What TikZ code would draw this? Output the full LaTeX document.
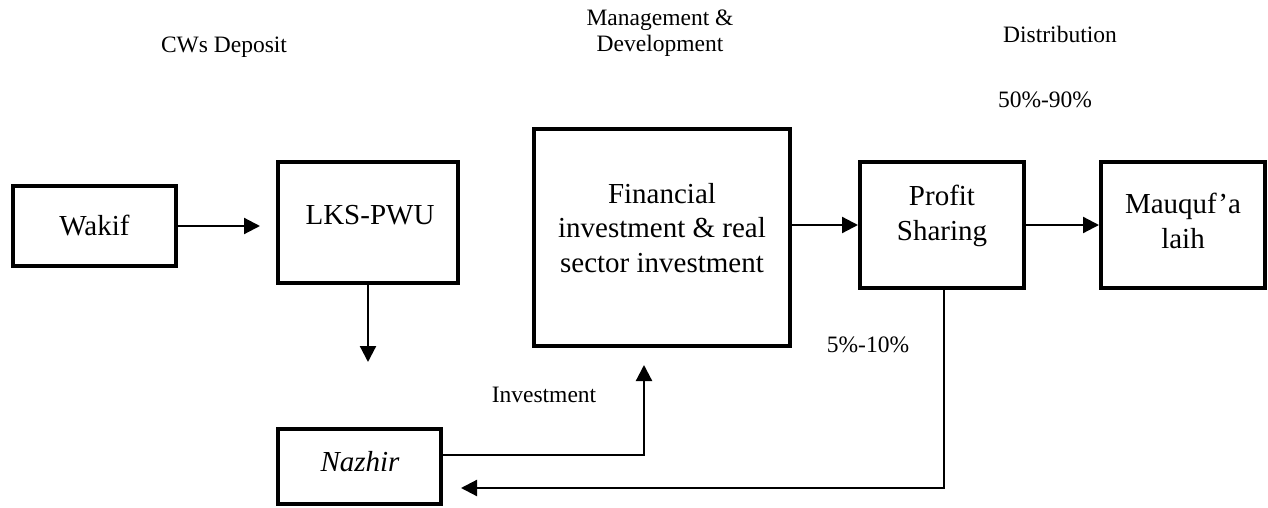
\documentclass[tikz,border=0pt]{standalone}
\usepackage{fontspec}
\setmainfont{Liberation Serif}
\usetikzlibrary{arrows.meta}
\tikzset{
  boxnode/.style={draw=black, line width=4pt, rectangle, inner sep=0pt},
  boxtext/.style={align=center, inner sep=0pt, font=\fontsize{29}{34.5}\selectfont},
  smalltext/.style={align=center, inner sep=0pt, font=\fontsize{23.5}{26}\selectfont},
  arr/.style={line width=2.2pt, -{Triangle[length=16pt,width=16pt]}},
  plainline/.style={line width=2.2pt}
}
\begin{document}
\begin{tikzpicture}[x=1pt,y=-1pt]
\useasboundingbox (0,0) rectangle (1268,508);
% boxes
\node[boxnode, minimum width=163pt, minimum height=80pt] (wakif) at (94.5,226) {};
\node[boxnode, minimum width=180pt, minimum height=121pt] (lks) at (368,222.5) {};
\node[boxnode, minimum width=163pt, minimum height=75pt] (nazhir) at (359.5,466.5) {};
\node[boxnode, minimum width=256pt, minimum height=217pt] (fin) at (662,237.5) {};
\node[boxnode, minimum width=164pt, minimum height=126pt] (profit) at (942,225) {};
\node[boxnode, minimum width=164pt, minimum height=126pt] (mq) at (1183,225) {};
% box texts
\node[boxtext] (wakiftxt) at (94.5,226) {Wakif};
\node[boxtext] (lkstxt) at (370,215) {LKS-PWU};
\node[boxtext] (nazhirtxt) at (360,462) {\itshape Nazhir};
\node[boxtext] (fintxt) at (662,228) {Financial\\investment \& real\\sector investment};
\node[boxtext] (profittxt) at (942,216) {Profit\\Sharing};
\node[boxtext] (mqtxt) at (1183,221) {Mauquf’a\\laih};
% header texts
\node[smalltext] (cws) at (224,47) {CWs Deposit};
\node[smalltext] (mgmt) at (660,33) {Management \&\\Development};
\node[smalltext] (dist) at (1060,34) {Distribution};
\node[smalltext] (p5090) at (1045,100) {50\%-90\%};
\node[smalltext] (p510) at (868,345) {5\%-10\%};
\node[smalltext] (inv) at (544,395) {Investment};
% connectors
\coordinate (lksin) at ([xshift=-16pt]lks.west |- wakif.east);
\draw[arr] (wakif.east) -- (lksin);
\coordinate (lksdown) at ([yshift=-77pt]lks.south);
\draw[arr] (lks.south) -- (lksdown);
\draw[arr] (fin.east |- profit.west) -- (profit.west);
\draw[arr] (profit.east) -- (mq.west);
\coordinate (nzout) at ([yshift=11.5pt]nazhir.east);
\coordinate (finin) at ([xshift=-18pt,yshift=-17pt]fin.south);
\draw[arr] (nzout) -| (finin);
\coordinate (nzin) at ([xshift=18pt,yshift=-21.5pt]nazhir.east);
\draw[arr] ([xshift=2pt]profit.south) |- (nzin);
\end{tikzpicture}
\end{document}
